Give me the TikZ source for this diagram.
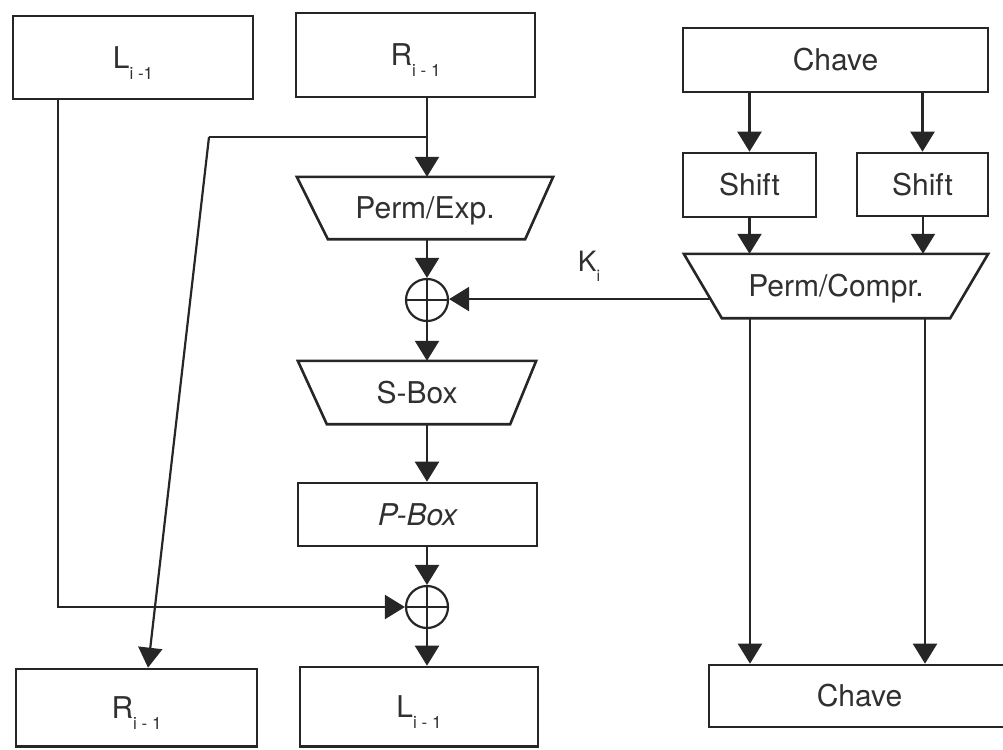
\documentclass[tikz,border=0pt]{standalone}
\usepackage{fontspec}
\setmainfont{TeX Gyre Heros}
\usetikzlibrary{arrows.meta,calc}
\definecolor{ink}{HTML}{262626}
\definecolor{txt}{HTML}{303030}
% lowered index after a block name (kept out of the vertical size)
\newcommand\subix[1]{\raisebox{-11pt}[0pt][0pt]{\fontsize{17}{17}\selectfont #1}}
\begin{document}
\begin{tikzpicture}[x=1pt,y=-1pt,
  blk/.style={draw=ink,line width=2.6pt,fill=white,inner sep=0pt,text=txt,
    font=\fontsize{30}{30}\selectfont,text height=21.5pt,text depth=0pt},
  trap/.style={inner sep=0pt,text=txt,
    font=\fontsize{30}{30}\selectfont,text height=21.5pt,text depth=0pt},
  outline/.style={draw=ink,line width=2.6pt,line join=miter},
  xorop/.style={circle,draw=ink,line width=2.2pt,minimum size=42pt,inner sep=0pt,
    path picture={\draw[ink,line width=2.2pt]
      (path picture bounding box.north) -- (path picture bounding box.south)
      (path picture bounding box.west) -- (path picture bounding box.east);}},
  wire/.style={draw=ink,line width=2.2pt},
  flow/.style={wire,-{Triangle[width=24pt,length=20pt]}}]
\useasboundingbox (0,0) rectangle (1003,749);

% data path
\node[blk,minimum width=240pt,minimum height=83pt] (Ltop) at (133,57.5) {L\subix{i -1}};
\node[blk,minimum width=239pt,minimum height=84pt] (Rtop) at (415.5,55) {R\subix{i - 1}};
\node[trap,minimum width=256pt,minimum height=62pt] (pexp) at (425,208) {Perm/Exp.};
\node[xorop] (xor1) at (427,300) {};
\node[trap,minimum width=238pt,minimum height=63pt] (sbox) at (417,392.5) {S-Box};
\node[blk,minimum width=239pt,minimum height=63pt] (pbox) at (417.5,514.5) {\itshape P-Box};
\node[xorop] (xor2) at (427,607) {};
\node[blk,minimum width=241pt,minimum height=77.5pt] (Rbot) at (136.5,707.75) {R\subix{i - 1}};
\node[blk,minimum width=238pt,minimum height=79.5pt] (Lbot) at (419,706.75) {L\subix{i - 1}};

% key schedule
\node[blk,minimum width=305pt,minimum height=64pt] (Ctop) at (835.5,60) {Chave};
\node[blk,minimum width=133pt,minimum height=64pt] (Sh1) at (749.5,185) {Shift};
\node[blk,minimum width=131pt,minimum height=63pt] (Sh2) at (922.5,184.5) {Shift};
\node[trap,minimum width=304pt,minimum height=64pt] (pcomp) at (836,286) {Perm/Compr.};
\node[blk,minimum width=301pt,minimum height=62pt] (Cbot) at (859.5,696) {Chave};
\node[inner sep=0pt,text=txt,font=\fontsize{28}{28}\selectfont] (kl) at (589,266) {K\raisebox{-10pt}{\fontsize{16}{16}\selectfont i}};

% trapezoid outlines (wide side on top)
\draw[outline] (pexp.north west) -- (pexp.north east) -- ([xshift=-28pt]pexp.south east)
  -- ([xshift=31pt]pexp.south west) -- cycle;
\draw[outline] (sbox.north west) -- (sbox.north east) -- ([xshift=-26pt]sbox.south east)
  -- ([xshift=29pt]sbox.south west) -- cycle;
\draw[outline] (pcomp.north west) -- (pcomp.north east) -- ([xshift=-38pt]pcomp.south east)
  -- ([xshift=38pt]pcomp.south west) -- cycle;

% connectors of the round function
\coordinate (split) at (427,137);
\coordinate (bend) at (209,137);
\draw[flow] (Rtop.south -| xor1) -- (pexp.north -| xor1);
\draw[wire] (split) -- (bend);
\draw[flow] (bend) -- ([xshift=11.5pt]Rbot.north);
\draw[flow] ([xshift=-75pt]Ltop.south) |- (xor2);
\draw[flow] (pexp.south -| xor1) -- (xor1);
\draw[flow] (xor1) -- (sbox.north -| xor1);
\draw[flow] (sbox.south -| xor1) -- (pbox.north -| xor1);
\draw[flow] (pbox.south -| xor2) -- (xor2);
\draw[flow] (xor2) -- (Lbot.north -| xor2);

% connectors of the key schedule
\draw[flow] (Sh1 |- Ctop.south) -- (Sh1);
\draw[flow] (Sh2 |- Ctop.south) -- (Sh2);
\draw[flow] (Sh1) -- (Sh1 |- pcomp.north);
\draw[flow] ([xshift=0.5pt]Sh2.south) -- ([xshift=0.5pt]Sh2.south |- pcomp.north);
\coordinate (c1) at (750,0);
\coordinate (c2) at (925,0);
\draw[flow] (pcomp.south -| c1) -- (Cbot.north -| c1);
\draw[flow] (pcomp.south -| c2) -- (Cbot.north -| c2);
\coordinate (kin) at ($(pcomp.north west)!0.703!([xshift=38pt]pcomp.south west)$);
\draw[flow] (kin) -- (kin -| xor1.east);
\end{tikzpicture}
\end{document}
